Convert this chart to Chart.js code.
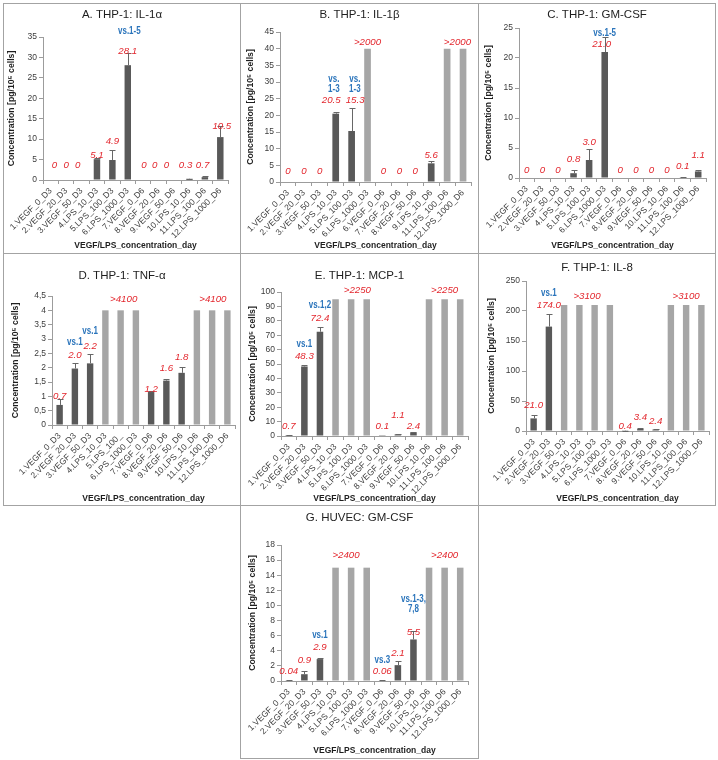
<!DOCTYPE html>
<html>
<head>
<meta charset="utf-8">
<script src="https://cdn.jsdelivr.net/npm/chart.js@4.4.0/dist/chart.umd.min.js"></script>
<style>
  body { margin: 0; background: #fff; }
  #wrap { position: relative; width: 718px; height: 760px; }
  #wrap canvas { position: absolute; }
  .box { position: absolute; box-sizing: border-box; border: 1px solid #a3a3a3; pointer-events: none; }
</style>
</head>
<body>
<div id="wrap"></div>
<script>
// category labels
const labelsStd = ["1.VEGF_0_D3", "2.VEGF_20_D3", "3.VEGF_50_D3", "4.LPS_10_D3", "5.LPS_100_D3", "6.LPS_1000_D3",
  "7.VEGF_0_D6", "8.VEGF_20_D6", "9.VEGF_50_D6", "10.LPS_10_D6", "11.LPS_100_D6", "12.LPS_1000_D6"];
const labelsB = ["1.VEGF_0_D3", "2.VEGF_20_D3", "3.VEGF_50_D3", "4.LPS_10_D3", "5.LPS_100_D3", "6.LPS_1000_D3",
  "6.VEGF_0_D6", "7.VEGF_20_D6", "8.VEGF_50_D6", "9.LPS_10_D6", "11.LPS_100_D6", "12.LPS_1000_D6"];
const labelsD = ["1.VEGF_0_D3", "2.VEGF_20_D3", "3.VEGF_50_D3", "4.LPS_10_D3", "5.LPS_100_", "6.LPS_1000_D3",
  "7.VEGF_0_D6", "8.VEGF_20_D6", "9.VEGF_50_D6", "10.LPS_10_D6", "11.LPS_100_D6", "12.LPS_1000_D6"];

// A. THP-1: IL-1a
const aVals = [0, 0, 0, 5.1, 4.9, 28.1, 0, 0, 0, 0.3, 0.7, 10.5];
const aErr  = [0, 0, 0, 0.2, 2.5, 3.1, 0, 0, 0, 0.05, 0.35, 2.7];
const aSat  = [0, 0, 0, 0, 0, 0, 0, 0, 0, 0, 0, 0];
const aNotes = [[0.25, 3.5, "0", "r"], [1, 3.5, "0", "r"], [1.75, 3.5, "0", "r"], [3, 6.1, "5.1", "r"],
  [4, 9.4, "4.9", "r"], [5, 31.4, "28.1", "r"], [5.1, 36.5, "vs.1-5", "b"], [6.05, 3.5, "0", "r"],
  [6.75, 3.5, "0", "r"], [7.5, 3.5, "0", "r"], [8.75, 3.5, "0.3", "r"], [9.85, 3.5, "0.7", "r"],
  [11.1, 13.2, "10.5", "r"]];

// B. THP-1: IL-1b
const bVals = [0, 0, 0, 20.5, 15.3, 40, 0, 0, 0, 5.6, 40, 40];
const bErr  = [0, 0, 0, 0.5, 6.9, 0, 0, 0, 0, 0.8, 0, 0];
const bSat  = [0, 0, 0, 0, 0, 1, 0, 0, 0, 0, 1, 1];
const bNotes = [[0, 3.3, "0", "r"], [1, 3.3, "0", "r"], [2, 3.3, "0", "r"], [2.72, 24.6, "20.5", "r"],
  [2.88, 27.8, "1-3", "b"], [2.88, 30.9, "vs.", "b"], [4.22, 24.6, "15.3", "r"], [4.2, 27.8, "1-3", "b"],
  [4.2, 30.9, "vs.", "b"], [5, 42, ">2000", "r"], [6, 3.3, "0", "r"], [7, 3.3, "0", "r"], [8, 3.3, "0", "r"],
  [9, 8.1, "5.6", "r"], [10.65, 42, ">2000", "r"]];

// C. THP-1: GM-CSF
const cVals = [0, 0, 0, 0.8, 3.0, 21.0, 0, 0, 0, 0, 0.1, 1.1];
const cErr  = [0, 0, 0, 0.6, 1.8, 2.5, 0, 0, 0, 0, 0.05, 0.3];
const cSat  = [0, 0, 0, 0, 0, 0, 0, 0, 0, 0, 0, 0];
const cNotes = [[0, 1.3, "0", "r"], [1, 1.3, "0", "r"], [2, 1.3, "0", "r"], [3, 3.1, "0.8", "r"],
  [4, 6.0, "3.0", "r"], [4.8, 22.2, "21.0", "r"], [5, 24.1, "vs.1-5", "b"], [6, 1.3, "0", "r"],
  [7, 1.3, "0", "r"], [8, 1.3, "0", "r"], [9, 1.3, "0", "r"], [10, 2.0, "0.1", "r"], [11, 3.7, "1.1", "r"]];

// D. THP-1: TNF-a
const dVals = [0.7, 1.97, 2.15, 4, 4, 4, 1.15, 1.55, 1.82, 4, 4, 4];
const dErr  = [0.2, 0.2, 0.32, 0, 0, 0, 0.04, 0.07, 0.22, 0, 0, 0];
const dSat  = [0, 0, 0, 1, 1, 1, 0, 0, 0, 1, 1, 1];
const dNotes = [[0, 1.0, "0.7", "r"], [1, 2.44, "2.0", "r"], [1, 2.9, "vs.1", "b"], [2, 2.76, "2.2", "r"],
  [2, 3.28, "vs.1", "b"], [4.2, 4.4, ">4100", "r"], [6, 1.26, "1.2", "r"], [7, 1.99, "1.6", "r"],
  [8, 2.37, "1.8", "r"], [10.05, 4.4, ">4100", "r"]];

// E. THP-1: MCP-1
const eVals = [0.7, 48.3, 72.4, 95, 95, 95, 0.1, 1.1, 2.4, 95, 95, 95];
const eErr  = [0.3, 0.8, 3.6, 0, 0, 0, 0, 0.2, 0.4, 0, 0, 0];
const eSat  = [0, 0, 0, 1, 1, 1, 0, 0, 0, 1, 1, 1];
const eNotes = [[0, 7, "0.7", "r"], [1, 55, "48.3", "r"], [1, 63.5, "vs.1", "b"], [2, 82, "72.4", "r"],
  [2, 91, "vs.1,2", "b"], [4.4, 101, ">2250", "r"], [6, 7, "0.1", "r"], [7, 14.6, "1.1", "r"],
  [8, 7, "2.4", "r"], [10, 101, ">2250", "r"]];

// F. THP-1: IL-8
const fVals = [21.0, 174.0, 210, 210, 210, 210, 0.4, 3.4, 2.4, 210, 210, 210];
const fErr  = [6, 21, 0, 0, 0, 0, 0.3, 2, 0.8, 0, 0, 0];
const fSat  = [0, 0, 1, 1, 1, 1, 0, 0, 0, 1, 1, 1];
const fNotes = [[0, 42, "21.0", "r"], [1, 210, "174.0", "r"], [1, 230, "vs.1", "b"], [3.5, 225, ">3100", "r"],
  [6, 8, "0.4", "r"], [7, 23, "3.4", "r"], [8, 16, "2.4", "r"], [10, 225, ">3100", "r"]];

// G. HUVEC: GM-CSF
const gVals = [0.04, 0.9, 2.9, 15, 15, 15, 0.06, 2.1, 5.5, 15, 15, 15];
const gErr  = [0.05, 0.4, 0.1, 0, 0, 0, 0.05, 0.5, 1.1, 0, 0, 0];
const gSat  = [0, 0, 0, 1, 1, 1, 0, 0, 0, 1, 1, 1];
const gNotes = [[0, 1.3, "0.04", "r"], [1, 2.8, "0.9", "r"], [2, 4.4, "2.9", "r"], [2, 6.0, "vs.1", "b"],
  [3.67, 16.6, ">2400", "r"], [6, 1.3, "0.06", "r"], [6, 2.8, "vs.3", "b"], [7, 3.7, "2.1", "r"],
  [8, 6.4, "5.5", "r"], [8, 9.5, "7,8", "b"], [8, 10.8, "vs.1-3,", "b"], [10, 16.6, ">2400", "r"]];

const FONT = "'Liberation Sans', Arial, sans-serif";
const DARK = "#595959";
const GREY = "#a6a6a6";
const AXIS = "#9c9c9c";
const RED = "#e3262d";
const BLUE = "#2a74bb";
const Y_TITLE = "Concentration [pg/10\u2075 cells]";
const X_TITLE = "VEGF/LPS_concentration_day";

// extra drawing: error bars, value notes, titles
const panelDecor = {
  id: "panelDecor",
  afterDraw(chart, args, o) {
    const { ctx, chartArea: a } = chart;
    const x = chart.scales.x, y = chart.scales.y;
    const meta = chart.getDatasetMeta(0);
    ctx.save();
    ctx.strokeStyle = "#676767";
    ctx.lineWidth = 1;
    o.err.forEach((e, i) => {
      if (!e) return;
      const bar = meta.data[i];
      const cx = Math.round(bar.x) + 0.5;
      const top = Math.round(y.getPixelForValue(o.vals[i] + e)) + 0.5;
      ctx.beginPath();
      ctx.moveTo(cx, bar.y);
      ctx.lineTo(cx, top);
      ctx.moveTo(cx - 3, top);
      ctx.lineTo(cx + 3, top);
      ctx.stroke();
    });

    ctx.textAlign = "center";
    ctx.textBaseline = "middle";
    o.notes.forEach(([i, v, text, kind]) => {
      const px = x.getPixelForValue(i);
      const py = y.getPixelForValue(v);
      if (kind === "b") {
        ctx.save();
        ctx.font = "bold 10px " + FONT;
        ctx.fillStyle = BLUE;
        ctx.translate(px, py);
        ctx.scale(0.8, 1);
        ctx.fillText(text, 0, 0);
        ctx.restore();
      } else {
        ctx.font = "italic 9.7px " + FONT;
        ctx.fillStyle = RED;
        ctx.fillText(text, px, py);
      }
    });

    ctx.fillStyle = "#1e1e1e";
    ctx.font = "11.5px " + FONT;
    ctx.fillText(o.title, chart.width / 2, o.titleY);

    ctx.font = "bold 8.5px " + FONT;
    ctx.fillText(X_TITLE, (a.left + a.right) / 2, o.xTitleY);

    ctx.translate(o.yTitleX, (a.top + a.bottom) / 2);
    ctx.rotate(-Math.PI / 2);
    ctx.font = "bold 8.7px " + FONT;
    ctx.fillText(Y_TITLE, 0, 0);
    ctx.restore();
  }
};

function makePanel(p) {
  const wrap = document.getElementById("wrap");
  const canvas = document.createElement("canvas");
  canvas.width = p.w;
  canvas.height = p.h;
  canvas.style.left = p.x + "px";
  canvas.style.top = p.y + "px";
  wrap.appendChild(canvas);
  const box = document.createElement("div");
  box.className = "box";
  box.style.cssText = `left:${p.x}px;top:${p.y}px;width:${p.w}px;height:${p.h}px`;
  wrap.appendChild(box);

  new Chart(canvas, {
    type: "bar",
    data: {
      labels: p.labels,
      datasets: [{
        data: p.vals,
        backgroundColor: p.sat.map(s => (s ? GREY : DARK)),
        barPercentage: 0.42,
        categoryPercentage: 1
      }]
    },
    options: {
      responsive: false,
      animation: false,
      events: [],
      layout: { padding: { left: 0, top: p.top, right: p.right, bottom: 0 } },
      plugins: {
        legend: { display: false },
        tooltip: { enabled: false },
        panelDecor: {
          vals: p.vals, err: p.err, notes: p.notes, title: p.title,
          titleY: p.titleY, xTitleY: p.xTitleY, yTitleX: p.yTitleX
        }
      },
      scales: {
        x: {
          grid: { drawOnChartArea: false, tickLength: 4, color: AXIS },
          border: { color: AXIS },
          ticks: {
            autoSkip: false, minRotation: 45, maxRotation: 45, padding: 2,
            color: "#3c3c3c", font: { family: FONT, size: 8.5 }
          },
          afterFit: s => { s.height = p.xh; }
        },
        y: {
          min: 0,
          max: p.max,
          grid: { drawOnChartArea: false, tickLength: 4, color: AXIS },
          border: { color: AXIS },
          ticks: {
            stepSize: p.step, padding: 2, color: "#3c3c3c", font: { family: FONT, size: 8.5 },
            callback: v => (p.comma ? String(v).replace(".", ",") : String(v))
          },
          afterFit: s => { s.width = p.left; }
        }
      }
    },
    plugins: [panelDecor]
  });
}

makePanel({ title: "A. THP-1: IL-1\u03b1", labels: labelsStd, vals: aVals, err: aErr, sat: aSat, notes: aNotes,
  max: 35, step: 5, x: 3, y: 3, w: 238, h: 251, left: 40, top: 34, right: 13, xh: 74,
  titleY: 12, xTitleY: 243, yTitleX: 9 });
makePanel({ title: "B. THP-1: IL-1\u03b2", labels: labelsB, vals: bVals, err: bErr, sat: bSat, notes: bNotes,
  max: 45, step: 5, x: 240, y: 3, w: 239, h: 251, left: 40, top: 29, right: 8, xh: 72,
  titleY: 12, xTitleY: 243, yTitleX: 11 });
makePanel({ title: "C. THP-1: GM-CSF", labels: labelsStd, vals: cVals, err: cErr, sat: cSat, notes: cNotes,
  max: 25, step: 5, x: 478, y: 3, w: 238, h: 251, left: 41, top: 25, right: 10, xh: 76,
  titleY: 12, xTitleY: 243, yTitleX: 11 });
makePanel({ title: "D. THP-1: TNF-\u03b1", labels: labelsD, vals: dVals, err: dErr, sat: dSat, notes: dNotes,
  max: 4.5, step: 0.5, comma: true, x: 3, y: 253, w: 238, h: 253, left: 49, top: 43, right: 6, xh: 81,
  titleY: 23, xTitleY: 246, yTitleX: 13 });
makePanel({ title: "E. THP-1: MCP-1", labels: labelsStd, vals: eVals, err: eErr, sat: eSat, notes: eNotes,
  max: 100, step: 10, x: 240, y: 253, w: 239, h: 253, left: 41, top: 39, right: 11, xh: 70,
  titleY: 23, xTitleY: 246, yTitleX: 13 });
makePanel({ title: "F. THP-1: IL-8", labels: labelsStd, vals: fVals, err: fErr, sat: fSat, notes: fNotes,
  max: 250, step: 50, x: 478, y: 253, w: 238, h: 253, left: 48, top: 28, right: 7, xh: 75,
  titleY: 15, xTitleY: 246, yTitleX: 14 });
makePanel({ title: "G. HUVEC: GM-CSF", labels: labelsStd, vals: gVals, err: gErr, sat: gSat, notes: gNotes,
  max: 18, step: 2, x: 240, y: 505, w: 239, h: 254, left: 41, top: 40, right: 11, xh: 78,
  titleY: 13, xTitleY: 246, yTitleX: 13 });
</script>
</body>
</html>
